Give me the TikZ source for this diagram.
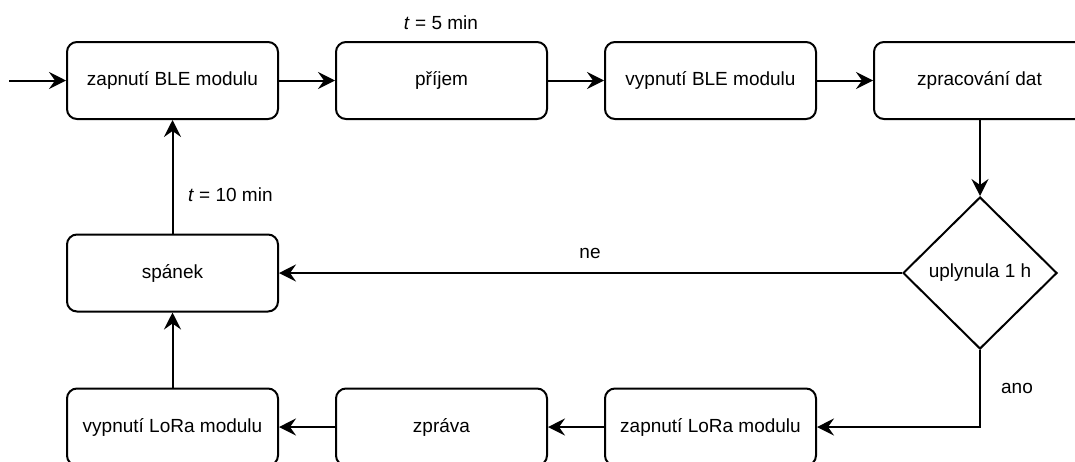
\documentclass[tikz,border=0pt]{standalone}
\usepackage{fontspec}
\setmainfont{Liberation Sans}
\usetikzlibrary{shapes.geometric,arrows.meta}
\begin{document}
\begin{tikzpicture}[x=1pt,y=-1pt,
  font=\fontsize{19}{22}\selectfont,
  line width=2pt,
  box/.style={draw,line width=2pt,rounded corners=10pt,minimum width=211pt,minimum height=77pt,inner sep=0pt},
  decision/.style={draw,line width=2pt,diamond,minimum width=154pt,minimum height=152pt,inner sep=0pt},
  flow/.style={line width=2pt,-{Stealth[length=17pt,width=17pt,inset=6pt]}},
  lbl/.style={inner sep=0pt}]
\useasboundingbox (0,0) rectangle (1075,461);
% top row
\node[box] (b1) at (172.5,80.5) {zapnutí BLE modulu};
\node[box] (b2) at (441.5,80.5) {příjem};
\node[box] (b3) at (710.5,80.5) {vypnutí BLE modulu};
\node[box] (b4) at (979.5,80.5) {zpracování dat};
% middle row
\node[box] (sp) at (172.5,273) {spánek};
\node[decision] (d) at (980,273) {uplynula 1 h};
% bottom row
\node[box] (c1) at (172.5,427) {vypnutí LoRa modulu};
\node[box] (c2) at (441.5,427) {zpráva};
\node[box] (c3) at (710.5,427) {zapnutí LoRa modulu};
% connectors
\coordinate (start) at (9,80.5);
\draw[flow] (start) -- (b1);
\draw[flow] (b1) -- (b2);
\draw[flow] (b2) -- (b3);
\draw[flow] (b3) -- (b4);
\draw[flow] (b4.south -| d.north) -- (d.north);
\draw[flow] (d.west) -- (sp.east);
\draw[flow] (d.south) |- (c3.east);
\draw[flow] (c3) -- (c2);
\draw[flow] (c2) -- (c1);
\draw[flow] (c1) -- (sp);
\draw[flow] (sp) -- (b1);
% labels
\node[lbl] (t5) at (441,23) {\textit{t} = 5 min};
\node[lbl,anchor=west] (t10) at (187,195) {\textit{t} = 10 min};
\node[lbl] (ne) at (590,253) {ne};
\node[lbl] (ano) at (1017,388) {ano};
\end{tikzpicture}
\end{document}
